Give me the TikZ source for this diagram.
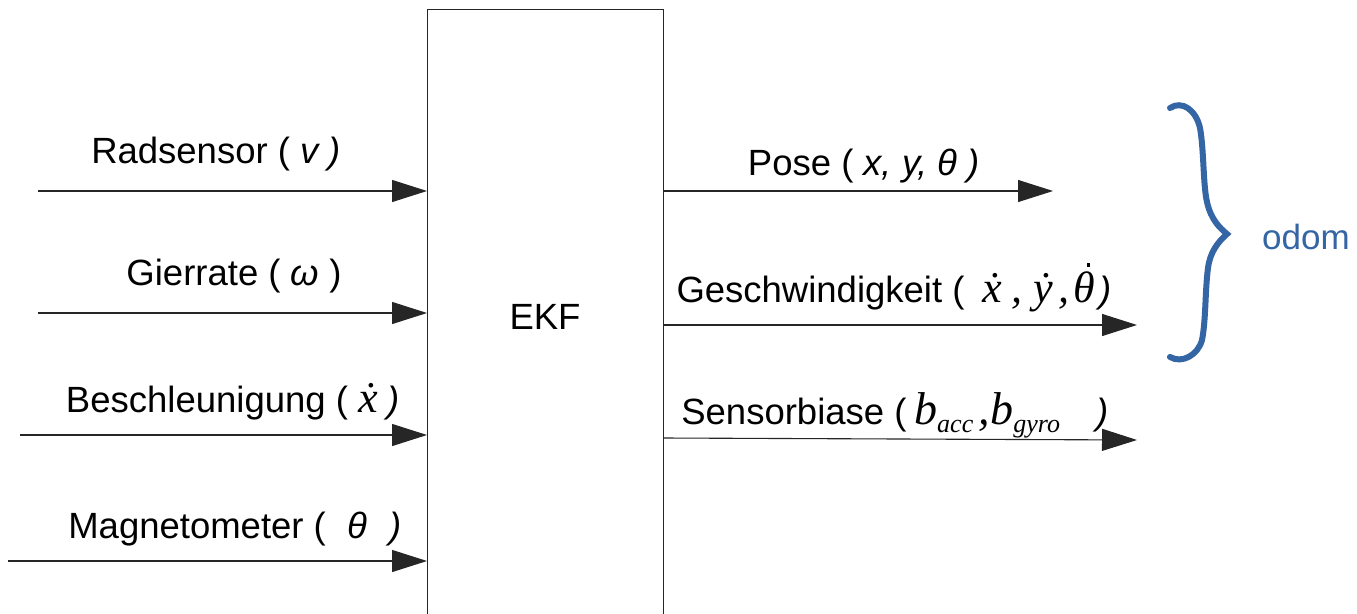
\documentclass[tikz,border=0pt]{standalone}
\usepackage{fontspec}
\setmainfont{Liberation Sans}
\newfontfamily\serifit{Liberation Serif}[ItalicFont=* Italic]
\usetikzlibrary{arrows.meta}
\definecolor{odomblue}{HTML}{3465A4}
\newcommand{\sv}[1]{{\itshape #1}}
\newcommand{\dotth}{\ooalign{\hfil\hspace{0.2em}\raisebox{0.8em}{\rule{3.6pt}{3.6pt}}\hfil\cr θ\cr}}
\begin{document}
\begin{tikzpicture}[x=1pt,y=-1pt,
  lbl/.style={anchor=base,inner sep=0pt,font=\fontsize{36.5}{42}\selectfont},
  arr/.style={draw=black!85,line width=1.1pt,-{Triangle[length=35pt,width=22pt]}},
  brace/.style={draw=odomblue,line width=6pt,line cap=round}]
\useasboundingbox (0,0) rectangle (1357,613);
\fill[white] (0,0) rectangle (1357,613);
% EKF box
\node[draw=black!85,line width=1.1pt,minimum width=236pt,minimum height=640pt,inner sep=0pt,anchor=north west] (ekf) at (427,9) {};
\node[lbl] (ekflbl) at (545,329) {EKF};
% inputs
\coordinate (i1) at (38,191);
\coordinate (i2) at (38,313);
\coordinate (i3) at (20,435);
\coordinate (i4) at (8,561);
\foreach \c in {i1,i2,i3,i4}{\draw[arr] (\c) -- (\c -| ekf.west);}
\node[lbl] (l1) at (216,163) {Radsensor ( \sv{v} \sv{)}};
\node[lbl] (l2) at (234,285) {Gierrate ( \sv{ω} )};
\node[lbl] (l3) at (233,412) {Beschleunigung ( {\serifit\itshape\fontsize{44}{46}\selectfont\.{x}} \sv{)}};
\node[lbl] (l4) at (235,538) {Magnetometer (\hspace{0.6em}\sv{θ}\hspace{0.6em}\sv{)}};
% outputs
\coordinate (o1) at (1053,191);
\coordinate (o2) at (1137,325);
\coordinate (o3) at (1137,440);
\draw[arr] (ekf.east |- o1) -- (o1);
\draw[arr] (ekf.east |- o2) -- (o2);
\draw[arr] (663,438) -- (o3);
\node[lbl] (r1) at (864,175) {Pose ( \sv{x, y, θ} \sv{)}};
\node[lbl] (r2) at (894,302) {Geschwindigkeit (\hspace{0.5em}{\serifit\itshape\fontsize{44}{48}\selectfont\.{x}\hspace{0.22em},\hspace{0.25em}\.{y}\hspace{0.12em},\hspace{0.08em}\dotth}\hspace{0.12em}\sv{)}};
\node[lbl] (r3) at (895,424) {Sensorbiase ({\serifit\itshape\fontsize{46}{50}\selectfont\,b\raisebox{-8pt}{\fontsize{26}{30}\selectfont acc}\hspace{0.12em},b\raisebox{-8pt}{\fontsize{26}{30}\selectfont gyro}}\hspace{1.0em}\sv{)}};
% brace
\draw[brace] (1170,108) .. controls (1182,100) and (1196,110) .. (1200,128)
  .. controls (1204,150) and (1203,185) .. (1207,202)
  .. controls (1211,220) and (1220,228) .. (1227,234)
  .. controls (1218,242) and (1210,252) .. (1208,268)
  .. controls (1205,290) and (1206,320) .. (1202,340)
  .. controls (1198,355) and (1182,364) .. (1170,357);
\node[lbl,text=odomblue,font=\fontsize{35}{40}\selectfont] (odom) at (1306,249) {odom};
\end{tikzpicture}
\end{document}
